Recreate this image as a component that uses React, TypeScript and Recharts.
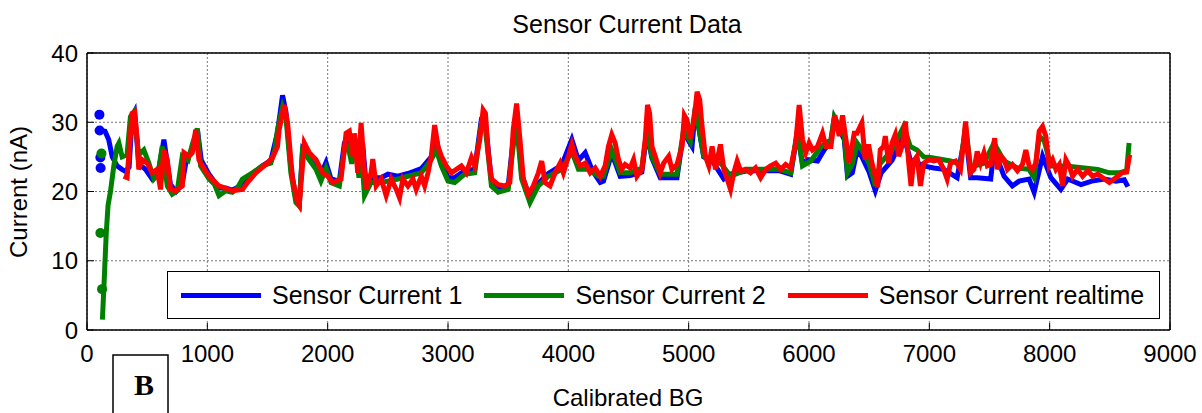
import { ComposedChart, Line, Scatter, XAxis, YAxis, CartesianGrid, Legend } from 'recharts'

const FONT = '"Liberation Sans", Arial, sans-serif'

const xTicks = [0, 1000, 2000, 3000, 4000, 5000, 6000, 7000, 8000, 9000]
const yTicks = [0, 10, 20, 30, 40]

// Sensor Current 1 (blue)
const sensor1BG = [105, 150, 180, 210, 250, 290, 320, 350, 375, 395, 430, 486, 542, 590, 639, 694, 740, 790, 830, 875, 917, 950, 1014, 1097, 1153, 1208, 1292, 1375, 1458, 1528, 1583, 1625, 1653, 1694, 1736, 1764, 1792, 1833, 1903, 1944, 1986, 2028, 2097, 2139, 2170, 2200, 2230, 2260, 2290, 2320, 2361, 2445, 2500, 2584, 2667, 2778, 2861, 2903, 2945, 3000, 3056, 3139, 3222, 3278, 3306, 3361, 3417, 3500, 3542, 3570, 3612, 3681, 3751, 3834, 3945, 4029, 4084, 4140, 4200, 4265, 4292, 4361, 4431, 4514, 4611, 4653, 4695, 4764, 4903, 4958, 5028, 5056, 5125, 5200, 5292, 5348, 5487, 5626, 5750, 5848, 5904, 5946, 5987, 6071, 6126, 6182, 6210, 6293, 6320, 6360, 6400, 6440, 6500, 6551, 6600, 6690, 6787, 6842, 6954, 7037, 7120, 7231, 7301, 7343, 7398, 7510, 7537, 7621, 7690, 7746, 7829, 7871, 7941, 8010, 8093, 8150, 8260, 8350, 8455, 8550, 8620, 8650]
const sensor1NA = [28.8, 28.7, 27.5, 25, 23.7, 23.2, 22.9, 23.5, 30.8, 31.5, 24, 23.2, 21.8, 22.5, 27.5, 21, 20, 21, 25, 26, 29, 24.5, 22.5, 20.5, 20.5, 20.2, 21, 22.5, 23.7, 24.5, 28.5, 33.9, 31.5, 23.5, 19, 18.2, 26, 25, 23.5, 22.5, 24.2, 21.8, 21.5, 27, 28, 25, 27.5, 22.5, 27, 21, 22, 22, 22.5, 22.2, 22.6, 23.3, 25, 27.5, 24.3, 22, 22, 23, 23.2, 30.5, 30.8, 21.5, 20.5, 20.8, 27.5, 31, 22.5, 19, 21.2, 22.6, 23.8, 27.5, 24.5, 25.6, 23, 21.3, 21.5, 25.5, 22.2, 22.3, 22.8, 28.5, 24.8, 22, 22, 28.5, 26.5, 32, 25, 24.3, 21.8, 22.5, 23, 23, 23, 22.5, 28.5, 24, 24.6, 24.4, 26, 27.2, 30.5, 27.5, 22.2, 22.7, 26, 25, 22.8, 20.1, 22.7, 24.5, 28, 24.6, 23.7, 23.4, 23.2, 22, 28.5, 22, 22, 21.8, 26, 22.2, 20.8, 21.5, 21.8, 19.9, 25.1, 22, 20.3, 21.8, 21, 21.5, 21.8, 21.5, 21.7, 20.7]
const sensor1DotsBG = [103, 105, 111, 113]
const sensor1DotsNA = [31.1, 28.8, 24.9, 23.4]

// Sensor Current 2 (green)
const sensor2BG = [128, 140, 160, 175, 195, 222, 250, 265, 292, 333, 361, 390, 430, 472, 514, 555, 590, 625, 667, 708, 750, 792, 840, 875, 917, 944, 1014, 1060, 1097, 1153, 1208, 1250, 1292, 1375, 1458, 1528, 1560, 1583, 1625, 1653, 1694, 1736, 1764, 1792, 1833, 1903, 1944, 1986, 2028, 2097, 2139, 2170, 2200, 2230, 2260, 2280, 2306, 2361, 2445, 2500, 2584, 2667, 2778, 2861, 2903, 2945, 3000, 3056, 3139, 3222, 3278, 3306, 3361, 3417, 3500, 3542, 3570, 3612, 3681, 3751, 3834, 3945, 4029, 4084, 4168, 4251, 4292, 4361, 4431, 4514, 4611, 4653, 4695, 4764, 4903, 4958, 5014, 5056, 5125, 5200, 5270, 5348, 5487, 5626, 5750, 5848, 5904, 5946, 6015, 6100, 6182, 6210, 6293, 6320, 6360, 6400, 6440, 6500, 6551, 6590, 6690, 6787, 6842, 6898, 6954, 7009, 7176, 7259, 7301, 7343, 7454, 7537, 7621, 7732, 7829, 7871, 7913, 7955, 8010, 8135, 8288, 8399, 8496, 8580, 8640, 8660]
const sensor2NA = [1.5, 6, 14, 18, 20, 23.6, 26.5, 27, 25, 25.3, 30.8, 31.5, 25.3, 26, 24.1, 21.8, 22.5, 26.5, 20.8, 19.6, 20.1, 25.1, 24.5, 26.8, 29.1, 23.7, 21.8, 21, 19.4, 20.1, 19.9, 20.5, 21.8, 22.7, 23.7, 24.1, 26, 28.9, 32.2, 30.8, 22.7, 18.4, 17.9, 26.5, 24.9, 23.2, 21.5, 23.4, 21.3, 20.8, 26, 26.5, 24, 27, 22, 26, 19.4, 21.3, 21.3, 21.5, 21.8, 22.2, 22.7, 24.6, 26, 23.7, 21.5, 21.3, 22.5, 22.7, 29.9, 29.9, 20.8, 19.9, 20.3, 26.5, 29.9, 21.8, 18.4, 20.8, 22.2, 23.2, 25.8, 23.2, 23.2, 22.2, 22.2, 26, 22.7, 22.7, 23.4, 28.9, 25, 22.5, 22.5, 28.9, 27.2, 32.2, 25.1, 24.5, 24, 22.2, 23.2, 23.2, 23.2, 22.7, 28.9, 23.7, 24.4, 26.5, 27.5, 30.8, 28, 22.7, 24, 27, 26, 24, 20.8, 24, 26, 29.4, 26.5, 26, 25, 24.9, 24.4, 24, 29.4, 23.5, 24.1, 27, 24.4, 23.4, 23.2, 22, 28, 27.3, 23.7, 23.7, 23.4, 23.2, 22.7, 22.7, 23, 27]
const sensor2DotsBG = [120, 111, 125]
const sensor2DotsNA = [25.5, 14, 5.9]

// Sensor Current realtime (red)
const realtimeBG = [305, 333, 375, 397, 417, 430, 458, 500, 542, 583, 611, 639, 667, 694, 736, 792, 806, 847, 875, 903, 930, 958, 1014, 1097, 1208, 1292, 1333, 1403, 1486, 1542, 1583, 1597, 1639, 1667, 1708, 1750, 1764, 1806, 1847, 1903, 1958, 2000, 2042, 2111, 2153, 2180, 2208, 2222, 2250, 2278, 2306, 2320, 2361, 2375, 2403, 2445, 2486, 2528, 2570, 2597, 2625, 2667, 2709, 2736, 2778, 2806, 2834, 2861, 2889, 2917, 2945, 2986, 3028, 3070, 3111, 3153, 3195, 3222, 3264, 3292, 3311, 3334, 3361, 3417, 3473, 3514, 3542, 3570, 3598, 3626, 3668, 3709, 3751, 3779, 3806, 3848, 3890, 3932, 3959, 4001, 4029, 4056, 4098, 4140, 4182, 4223, 4265, 4306, 4333, 4361, 4389, 4417, 4444, 4472, 4514, 4542, 4570, 4611, 4639, 4658, 4675, 4695, 4722, 4764, 4792, 4834, 4861, 4903, 4945, 4964, 4986, 5014, 5042, 5070, 5092, 5111, 5139, 5167, 5195, 5223, 5264, 5292, 5320, 5348, 5375, 5403, 5431, 5473, 5514, 5556, 5598, 5640, 5681, 5723, 5765, 5806, 5848, 5890, 5918, 5946, 5973, 6001, 6029, 6071, 6112, 6140, 6182, 6215, 6251, 6279, 6307, 6334, 6376, 6398, 6439, 6467, 6495, 6523, 6551, 6570, 6592, 6620, 6634, 6662, 6690, 6717, 6745, 6773, 6801, 6829, 6848, 6870, 6898, 6926, 6954, 6995, 7037, 7079, 7120, 7148, 7176, 7218, 7259, 7287, 7301, 7320, 7343, 7371, 7398, 7426, 7454, 7482, 7510, 7543, 7565, 7593, 7621, 7649, 7690, 7732, 7774, 7802, 7829, 7857, 7885, 7913, 7941, 7968, 7996, 8024, 8052, 8080, 8107, 8135, 8163, 8191, 8232, 8274, 8316, 8357, 8399, 8455, 8496, 8550, 8600, 8640, 8665]
const realtimeNA = [22.2, 22, 31.3, 31.5, 27.5, 23.2, 24.6, 24.1, 22.7, 23.2, 20.3, 26, 24.6, 20.3, 20.1, 20.8, 25.6, 25.1, 25.6, 28.9, 24.6, 23.7, 22.2, 20.8, 20.1, 20.3, 21.3, 22.7, 23.9, 24.9, 26.5, 28.9, 32.5, 29.9, 21.8, 18.4, 18, 27, 25.6, 24.6, 22.7, 22.2, 21.3, 21.8, 28.4, 28.7, 25.1, 28.4, 22.7, 29.9, 22.7, 20.3, 22.7, 24.7, 20.8, 21.8, 19.4, 21.8, 20.3, 19.1, 21.8, 20.8, 21.8, 20.3, 22.2, 20.8, 22.7, 25.1, 29.6, 26.5, 25.1, 23.7, 22.7, 23.2, 23.7, 22.7, 24.9, 23.7, 27.5, 31.8, 31.3, 25.6, 21.8, 21, 20.8, 21.3, 28.9, 32.7, 27.5, 21.8, 19.6, 20.8, 22.7, 24.4, 21.3, 20.8, 22.7, 24.1, 22.7, 25.1, 26.8, 25.1, 23.7, 24.1, 22.7, 23.4, 22.2, 23.7, 26.5, 28.2, 27, 24.6, 23.2, 23.9, 23.4, 24.6, 22.2, 23.2, 27.5, 32.5, 31.3, 26.5, 25.1, 22.7, 24.1, 25.1, 23.2, 23.9, 26.5, 31, 30.3, 27.7, 29.9, 34.4, 33.2, 29.4, 25.1, 23.7, 26.5, 23.2, 26.8, 23.2, 21.8, 20.3, 22.7, 24.4, 23, 23.2, 22.7, 23.4, 22, 23.2, 23.7, 24.1, 23.2, 23.9, 23.4, 27, 32.5, 27.5, 25.6, 27, 26, 26.5, 28.4, 26.5, 26.5, 31, 28, 31, 27.5, 24.1, 28.4, 28.4, 29.9, 24.6, 26.8, 24.1, 22.2, 20.6, 26, 26.5, 28, 24.1, 27, 28.2, 25.1, 26.5, 30.1, 24.1, 20.8, 24.4, 25.1, 20.8, 24.1, 24.6, 24.4, 24.6, 23.2, 21.8, 24.1, 24.4, 23.2, 27.5, 30.1, 26.5, 22.7, 23.2, 25.8, 24.1, 25.6, 23.7, 23.9, 27.7, 23.2, 25.1, 24.6, 23.2, 23.9, 23, 23.9, 26, 23.7, 23.2, 24.1, 28.7, 29.4, 28, 23.7, 24.6, 23.2, 23.9, 20.8, 24.6, 23.7, 22.2, 23.2, 22.2, 23, 22.2, 22.5, 21.8, 21.3, 22, 22.7, 22.8, 25.3]

const seriesNames = ['Sensor Current 1', 'Sensor Current 2', 'Sensor Current realtime']
const seriesColors = ['#0000ff', '#008000', '#ff0000']

const toPoints = (bg: number[], na: number[]) => bg.map((x, i) => ({ bg: x, na: na[i] }))

const sensor1 = toPoints(sensor1BG, sensor1NA)
const sensor2 = toPoints(sensor2BG, sensor2NA)
const realtime = toPoints(realtimeBG, realtimeNA)
const sensor1Dots = toPoints(sensor1DotsBG, sensor1DotsNA)
const sensor2Dots = toPoints(sensor2DotsBG, sensor2DotsNA)

const axisLine = { stroke: '#000', strokeWidth: 1.5 }
const tickLine = { stroke: '#000', strokeWidth: 1 }
const tickFont = { fill: '#000', fontSize: 24, fontFamily: FONT }

function LegendBox({ payload }: any) {
  const items = (payload || []).filter((p: any) => seriesNames.includes(p.value))
  return (
    <div
      style={{
        boxSizing: 'border-box',
        width: '100%',
        height: '100%',
        border: '1.5px solid #000',
        background: '#fff',
        display: 'flex',
        alignItems: 'center',
        paddingLeft: 13,
        fontFamily: FONT,
        fontSize: 25,
        color: '#000',
      }}
    >
      {items.map((item: any) => (
        <div key={item.value} style={{ display: 'flex', alignItems: 'center', marginRight: 22 }}>
          <div style={{ width: 80, height: 5, background: item.color, marginRight: 11 }} />
          <span style={{ whiteSpace: 'pre' }}>{item.value}</span>
        </div>
      ))}
    </div>
  )
}

const dotShape = (color: string) => (props: any) => <circle cx={props.cx} cy={props.cy} r={5} fill={color} />

export default function App() {
  return (
    <div style={{ position: 'relative', width: 1202, height: 413, overflow: 'hidden', background: '#fff' }}>
      <style>{'body{margin:0}'}</style>
      <ComposedChart width={1202} height={413} margin={{ top: 52, right: 31, bottom: 53, left: 27 }}>
        <CartesianGrid stroke="#777" strokeDasharray="2 2" strokeWidth={1} />
        <XAxis
          dataKey="bg"
          type="number"
          domain={[0, 9000]}
          ticks={xTicks}
          allowDataOverflow
          axisLine={axisLine}
          tickLine={tickLine}
          tickSize={-7}
          tickMargin={22}
          tick={tickFont}
          height={30}
          interval={0}
        />
        <XAxis
          xAxisId="top"
          orientation="top"
          dataKey="bg"
          type="number"
          domain={[0, 9000]}
          ticks={xTicks}
          allowDataOverflow
          axisLine={axisLine}
          tickLine={tickLine}
          tickSize={-7}
          tick={false}
          height={1}
        />
        <YAxis
          type="number"
          domain={[0, 40]}
          ticks={yTicks}
          allowDataOverflow
          axisLine={axisLine}
          tickLine={tickLine}
          tickSize={-7}
          tickMargin={16}
          tick={tickFont}
          width={60}
          interval={0}
        />
        <YAxis
          yAxisId="right"
          orientation="right"
          type="number"
          domain={[0, 40]}
          ticks={yTicks}
          allowDataOverflow
          axisLine={axisLine}
          tickLine={tickLine}
          tickSize={-7}
          tick={false}
          width={1}
        />
        <Line data={sensor1} dataKey="na" name={seriesNames[0]} stroke={seriesColors[0]} strokeWidth={5} dot={false} isAnimationActive={false} />
        <Line data={sensor2} dataKey="na" name={seriesNames[1]} stroke={seriesColors[1]} strokeWidth={5} dot={false} isAnimationActive={false} />
        <Line data={realtime} dataKey="na" name={seriesNames[2]} stroke={seriesColors[2]} strokeWidth={5} dot={false} isAnimationActive={false} />
        <Scatter data={sensor1Dots} dataKey="na" fill={seriesColors[0]} shape={dotShape(seriesColors[0])} legendType="none" isAnimationActive={false} />
        <Scatter data={sensor2Dots} dataKey="na" fill={seriesColors[1]} shape={dotShape(seriesColors[1])} legendType="none" isAnimationActive={false} />
        <Legend
          layout="horizontal"
          verticalAlign="middle"
          align="center"
          content={<LegendBox />}
          wrapperStyle={{ left: 167, top: 271, width: 993, height: 48 }}
        />
      </ComposedChart>
      <svg width={1202} height={413} style={{ position: 'absolute', left: 0, top: 0, pointerEvents: 'none' }}>
        <text x={627} y={33} textAnchor="middle" fontFamily={FONT} fontSize={25} fill="#000">
          Sensor Current Data
        </text>
        <text x={628} y={406} textAnchor="middle" fontFamily={FONT} fontSize={24} fill="#000">
          Calibrated BG
        </text>
        <text x={27} y={192} textAnchor="middle" fontFamily={FONT} fontSize={24} fill="#000" transform="rotate(-90 27 192)">
          Current (nA)
        </text>
        <rect x={113} y={355} width={55} height={70} fill="#fff" stroke="#000" strokeWidth={1.5} />
        <text x={144} y={395} textAnchor="middle" fontFamily='"Liberation Serif", "Times New Roman", serif' fontWeight="bold" fontSize={30} fill="#000">
          B
        </text>
      </svg>
    </div>
  )
}
